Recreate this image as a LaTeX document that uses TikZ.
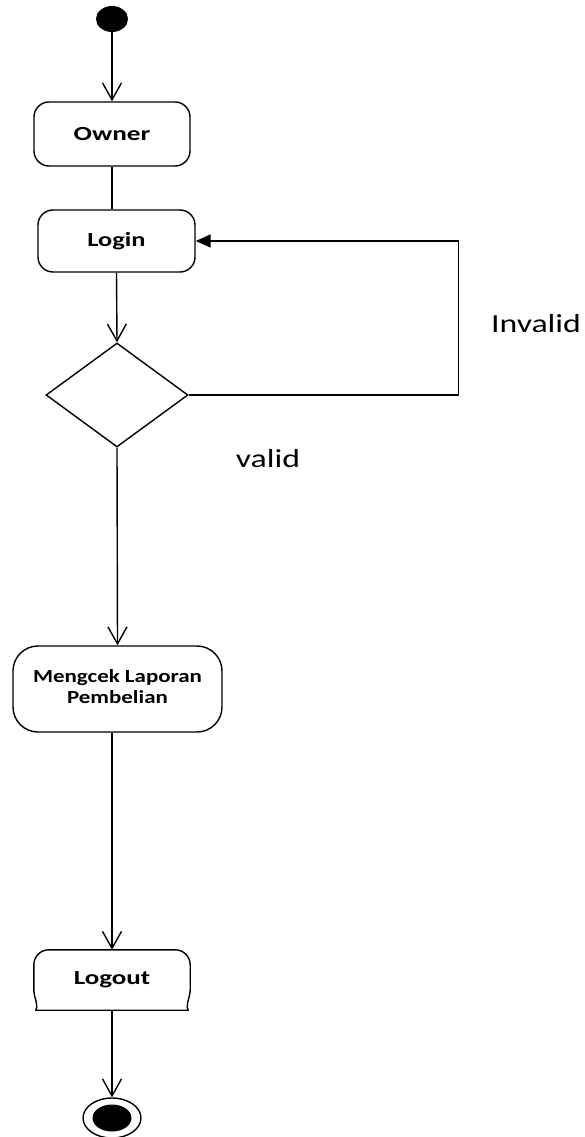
\documentclass[tikz,border=0pt]{standalone}
\usepackage{fontspec}
\setmainfont{Carlito}
\usetikzlibrary{arrows.meta,shapes.geometric,calc}

% horizontally widened text
\newcommand{\widetxt}[2]{\scalebox{#1}[1]{#2}}

\tikzset{
  line/.style={line width=1.4pt, black},
  flow/.style={line, -{Straight Barb[length=17pt,width=19pt,line width=1.4pt]}},
  back/.style={line, -{Triangle[length=15pt,width=13pt]}},
  actbox/.style={draw, line width=1.4pt, rounded corners=15pt, inner sep=0pt,
                 font=\fontsize{20}{24}\selectfont\bfseries},
  decision/.style={draw, line width=1.4pt, diamond, inner sep=0pt},
  lbl/.style={font=\fontsize{26}{30}\selectfont, inner sep=0pt},
}

\begin{document}
\begin{tikzpicture}[x=1pt,y=-1pt]
  \useasboundingbox (0,0) rectangle (585,1137);

  % initial state
  \node[ellipse, fill=black, minimum width=32pt, minimum height=26pt, inner sep=0pt] (start) at (112,19) {};

  % activities
  \node[actbox, minimum width=156pt, minimum height=64pt] (owner) at (112,134) {\widetxt{1.36}{Owner}};
  \node[actbox, minimum width=157pt, minimum height=62pt] (login) at (116.5,241) {\widetxt{1.32}{Login}};

  % decision
  \node[decision, minimum width=142pt, minimum height=104pt] (dia) at (117,395) {};

  \node[actbox, rounded corners=25pt, minimum width=209pt, minimum height=86pt,
        font=\fontsize{18.5}{21}\selectfont\bfseries] (cek) at (117.5,689)
        {\widetxt{1.24}{\begin{tabular}{@{}c@{}}Mengcek Laporan\\Pembelian\end{tabular}}};

  % logout activity (outline drawn below)
  \node[inner sep=0pt, minimum width=156pt, minimum height=60pt,
        font=\fontsize{20}{24}\selectfont\bfseries] (logout) at (112,980) {\widetxt{1.35}{Logout}};
  \draw[line, line join=round]
    ($(logout.south west)+(2,0)$) -- ($(logout.south west)+(3,-3)$)
    .. controls ($(logout.south west)+(3,-10)$) and ($(logout.south west)+(0,-14)$) .. ($(logout.south west)+(0,-20)$)
    -- ($(logout.north west)+(0,15)$)
    arc[start angle=180, end angle=90, radius=15pt]
    -- ($(logout.north east)+(-15,0)$)
    arc[start angle=90, end angle=0, radius=15pt]
    -- ($(logout.south east)+(0,-20)$)
    .. controls ($(logout.south east)+(0,-14)$) and ($(logout.south east)+(-3,-10)$) .. ($(logout.south east)+(-3,-3)$)
    -- ($(logout.south east)+(-2,0)$) -- cycle;

  % final state
  \node[ellipse, draw, line width=1.4pt, minimum width=58pt, minimum height=40pt, inner sep=0pt] (end) at (112,1118) {};
  \node[ellipse, fill=black, minimum width=39pt, minimum height=27pt, inner sep=0pt] at (end.center) {};

  % connectors
  \draw[flow] (start.south) -- (owner.north);
  \draw[line] (owner.south) -- (owner.south |- login.north);
  \draw[flow] (login.south) -- (dia.north);
  \draw[back] (dia.east) -- ++(270,0) |- (login.east);
  \draw[flow] (dia.south) -- (cek.north);
  \draw[flow] (logout.north |- cek.south) -- (logout.north);
  \draw[flow] (logout.south) -- (end.north);

  % guard labels
  \node[lbl] (inv) at (536,324) {\widetxt{1.3}{Invalid}};
  \node[lbl] (val) at (268,459) {\widetxt{1.3}{valid}};
\end{tikzpicture}
\end{document}
